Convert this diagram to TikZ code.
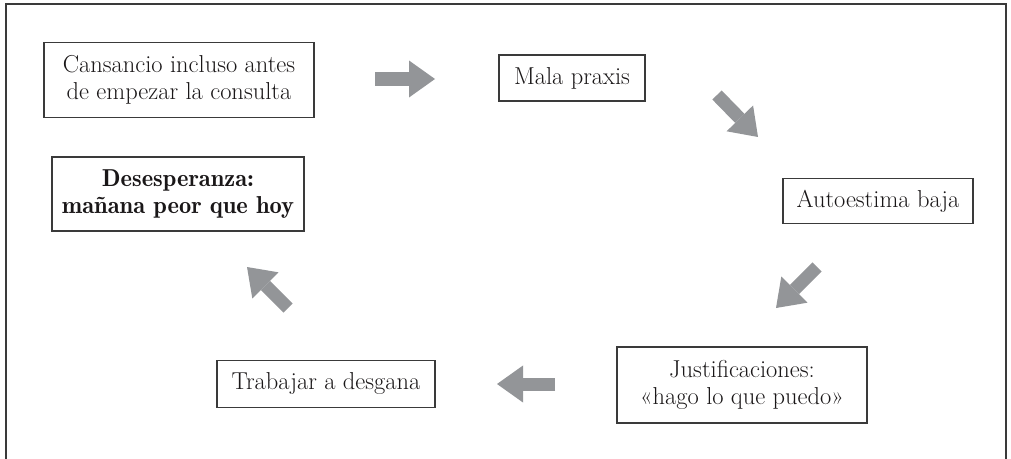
\documentclass[tikz,border=0pt]{standalone}
\usepackage{tikz}
\usetikzlibrary{arrows.meta}
\definecolor{Dark}{HTML}{1A1718}
\definecolor{Edge}{HTML}{3A3A3A}
\definecolor{Shade}{HTML}{939598}
\tikzset{
    box/.style={rectangle, draw=Edge, line width=0.8pt, text=Dark, align=center, inner sep=0pt, font=\fontsize{17.4}{19.2}\selectfont},
    boldbox/.style={box, font=\fontsize{17.4}{19.2}\fontseries{b}\selectfont},
    blockarrow/.style={draw=Shade, line width=0.325cm, -{Triangle[length=0.65cm, width=0.925cm, line width=0pt]}},
}
\begin{document}
\begin{tikzpicture}[x=0.025cm, y=-0.025cm]
    \clip (0,0) rectangle (1011,459);
    % Marco
    \draw[Edge, line width=1.2pt] (6,4) rectangle (1006,480);

    % Riquadri del ciclo
    \node[box, minimum width=6.75cm, minimum height=1.875cm] (cansancio) at (179,80) {Cansancio incluso antes\\de empezar la consulta};
    \node[box, minimum width=3.65cm, minimum height=1.15cm] (mala) at (572,78) {Mala praxis};
    \node[box, minimum width=4.75cm, minimum height=1.125cm] (autoestima) at (878,201) {Autoestima baja};
    \node[box, minimum width=6.25cm, minimum height=1.9cm] (justif) at (742,385) {Justificaciones:\\«hago lo que puedo»};
    \node[box, minimum width=5.45cm, minimum height=1.175cm] (trabajar) at (326,384) {Trabajar a desgana};
    \node[boldbox, minimum width=6.3cm, minimum height=1.85cm] (desesp) at (178,194) {Desesperanza:\\mañana peor que hoy};

    % Estremi delle frecce
    \coordinate (a1) at (375,79);  \coordinate (b1) at (435,79);
    \coordinate (a2) at (717,95);  \coordinate (b2) at (758,137);
    \coordinate (a3) at (817,267); \coordinate (b3) at (776,308);
    \coordinate (a4) at (555,384); \coordinate (b4) at (497,384);
    \coordinate (a5) at (288,308); \coordinate (b5) at (247,267);

    % Frecce
    \foreach \i in {1,...,5}
        \draw[blockarrow] (a\i) -- (b\i);
\end{tikzpicture}
\end{document}
